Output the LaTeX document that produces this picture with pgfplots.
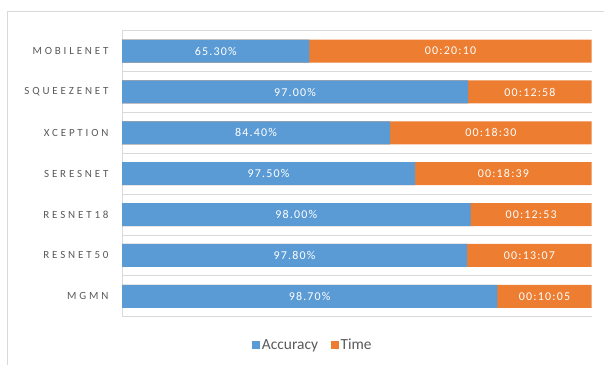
\documentclass[border=0pt]{standalone}
\usepackage{fontspec}
\setmainfont{Carlito}
\newfontfamily\spacedcat{Carlito}[LetterSpace=26]
\newfontfamily\spacedlab{Carlito}[LetterSpace=10]
\usepackage{pgfplots}
\pgfplotsset{compat=1.18}
\definecolor{accblue}{HTML}{5B9BD5}
\definecolor{timeor}{HTML}{ED7D31}
\definecolor{txtgray}{HTML}{595959}
\definecolor{gridgray}{HTML}{D9D9D9}
\begin{document}
\begin{tikzpicture}
\useasboundingbox (0,0) rectangle (604bp,365bp);
\draw[gridgray, line width=0.8bp] (7bp,0) -- (7bp,354bp) -- (604bp,354bp);
\begin{axis}[
  at={(122bp,48.3bp)}, anchor=south west,
  width=469.7bp, height=286bp, scale only axis,
  xmin=0, xmax=100, ymin=-0.5, ymax=6.5,
  y dir=reverse,
  axis x line=none, axis y line=left,
  axis line style={-, draw=gridgray, line width=0.8bp},
  ytick={0,1,2,3,4,5,6},
  yticklabels={MOBILENET,SQUEEZENET,XCEPTION,SERESNET,RESNET18,RESNET50,MGMN},
  yticklabel style={font=\spacedcat\fontsize{11}{13}\selectfont, text=txtgray, xshift=-10bp},
  major tick length=0pt, minor tick length=0pt,
  minor ytick={-0.5,0.5,1.5,2.5,3.5,4.5,5.5,6.5},
  yminorgrids, minor grid style={draw=gridgray, line width=0.8bp},
  xbar, bar width=23bp, bar shift=0pt,
  legend style={at={(0.4056,-0.099)}, anchor=center, draw=none, fill=none,
    legend columns=2, font=\fontsize{15.5}{17}\selectfont, text=txtgray,
    inner xsep=0pt, nodes={inner xsep=1.5bp}},
  legend image code/.code={\fill[#1] (0bp,-4.2bp) rectangle (8.5bp,4.2bp);},
  clip=false,
]
% Time segments (full bar, drawn first)
\addplot[fill=timeor, draw=none, forget plot] coordinates {
(100,0) (100,1) (100,2) (100,3) (100,4) (100,5) (100,6)};
% Accuracy segments (share of bar length)
\addplot[fill=accblue, draw=none, forget plot] coordinates {
(39.9,0) (73.7,1) (57.1,2) (62.4,3) (74.2,4) (73.5,5) (79.9,6)};
% labels
\addplot[only marks, mark=none, forget plot,
  nodes near coords, point meta=explicit symbolic,
  nodes near coords style={anchor=center, text=white, font=\spacedlab\fontsize{12}{14}\selectfont}]
coordinates {
(19.95,0) [65.30\%] (36.85,1) [97.00\%] (28.55,2) [84.40\%] (31.2,3) [97.50\%]
(37.1,4) [98.00\%] (36.75,5) [97.80\%] (39.95,6) [98.70\%]};
\addplot[only marks, mark=none, forget plot,
  nodes near coords, point meta=explicit symbolic,
  nodes near coords style={anchor=center, text=white, font=\spacedlab\fontsize{12}{14}\selectfont}]
coordinates {
(69.95,0) [00:20:10] (86.85,1) [00:12:58] (78.55,2) [00:18:30] (81.2,3) [00:18:39]
(87.1,4) [00:12:53] (86.75,5) [00:13:07] (89.95,6) [00:10:05]};
\addlegendimage{fill=accblue, draw=none}
\addlegendentry{Accuracy\rule{11bp}{0pt}}
\addlegendimage{fill=timeor, draw=none}
\addlegendentry{Time}
\end{axis}
\end{tikzpicture}
\end{document}
